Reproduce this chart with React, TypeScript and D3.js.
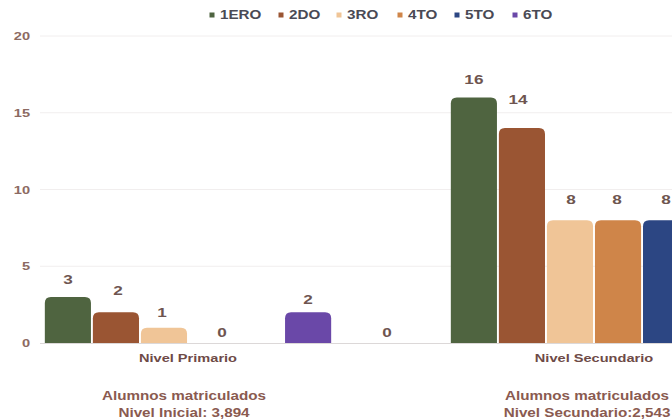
import React from "react";
import * as d3 from "d3";

const categories = ["Nivel Primario", "Nivel Secundario"];
const seriesNames = ["1ERO", "2DO", "3RO", "4TO", "5TO", "6TO"];
const primario = [3, 2, 1, 0, 0, 2];
const secundario = [16, 14, 8, 8, 8, 0];
const yTicks = [0, 5, 10, 15, 20];
const notes = [
  ["Alumnos matriculados", "Nivel Inicial: 3,894"],
  ["Alumnos matriculados", "Nivel Secundario:2,543"],
];
const colors = ["#4f6440", "#9a5533", "#f0c597", "#cf8549", "#2c4683", "#6a48a8"];

// label placement tweaks [groupIndex-seriesIndex] -> [dx, dy]
const labelTweak: Record<string, [number, number]> = {
  "0-1": [2, -4],
  "0-2": [-2, 2],
  "0-3": [10, 7],
  "0-4": [127, 7],
  "0-5": [0, 5],
  "1-1": [-4, -11],
  "1-2": [1, -3],
  "1-3": [-1, -3],
  "1-4": [0, -3],
};

const SX = 1.27;
const font = "'Liberation Sans', Arial, sans-serif";

function T(props: { x: number; y: number; anchor?: string; size: number; fill: string; dy?: string; children: any }) {
  return (
    <text
      transform={`translate(${props.x},${props.y}) scale(${SX},1)`}
      dy={props.dy}
      textAnchor={props.anchor || "start"}
      fontSize={props.size}
      fontWeight="bold"
      fill={props.fill}
      fontFamily={font}
    >
      {props.children}
    </text>
  );
}

export default function App() {
  const W = 672, H = 419;
  const values = [primario, secundario];
  const x0 = d3.scaleBand<string>().domain(categories).range([-15, 797]).paddingInner(0.29).paddingOuter(0.145);
  const x1 = d3.scaleBand<string>().domain(seriesNames).range([0, x0.bandwidth()]).paddingInner(0.04).paddingOuter(0.02);
  const y = d3.scaleLinear().domain([0, 20]).range([343, 36]);
  const r = 6;

  const barPath = (x: number, w: number, top: number, bottom: number) => {
    const h = bottom - top;
    if (h <= 0) return "";
    const rr = Math.min(r, h, w / 2);
    return `M${x},${bottom}V${top + rr}Q${x},${top} ${x + rr},${top}H${x + w - rr}Q${x + w},${top} ${x + w},${top + rr}V${bottom}Z`;
  };

  const legendX = [212, 281, 339, 400, 457, 515];

  return (
    <svg width={W} height={H} style={{ position: "absolute", left: 0, top: 0, background: "#fff" }} fontFamily={font}>
      <rect width={W} height={H} fill="#fff" />
      {yTicks.map((t) => (
        <g key={t}>
          {t > 0 && <line x1={40} x2={W} y1={y(t)} y2={y(t)} stroke="#f1eeee" strokeWidth={1} />}
          <T x={30} y={y(t)} dy="0.35em" anchor="end" size={11.5} fill="#8c6a62">{t}</T>
        </g>
      ))}
      <line x1={40} x2={W} y1={343.5} y2={343.5} stroke="#dcd8d8" strokeWidth={1} />
      {categories.map((c, gi) => (
        <g key={c} transform={`translate(${x0(c)},0)`}>
          {seriesNames.map((s, si) => {
            const v = values[gi][si];
            const bx = x1(s)!;
            const bw = x1.bandwidth();
            const tw = labelTweak[`${gi}-${si}`] || [0, 0];
            return (
              <g key={s}>
                <path d={barPath(bx, bw, y(v), y(0))} fill={colors[si]} />
                <T x={bx + bw / 2 + tw[0]} y={y(v) - 13 + tw[1]} anchor="middle" size={13.5} fill="#6e5550">{v}</T>
              </g>
            );
          })}
          <T x={x0.bandwidth() / 2} y={362} anchor="middle" size={11.5} fill="#6e4a47">{c}</T>
        </g>
      ))}
      {notes.map((n, i) => {
        const cx = i === 0 ? 184 : 587;
        return (
          <g key={i}>
            <T x={cx} y={400} anchor="middle" size={12} fill="#8a5a50">{n[0]}</T>
            <T x={cx} y={417} anchor="middle" size={12} fill="#8a5a50">{n[1]}</T>
          </g>
        );
      })}
      {seriesNames.map((s, i) => (
        <g key={s} transform={`translate(${legendX[i]},15)`}>
          <rect x={-2.5} y={-2.5} width={5} height={5} fill={colors[i]} />
          <T x={8} y={0} dy="0.35em" size={12} fill="#4a4a55">{s}</T>
        </g>
      ))}
    </svg>
  );
}
